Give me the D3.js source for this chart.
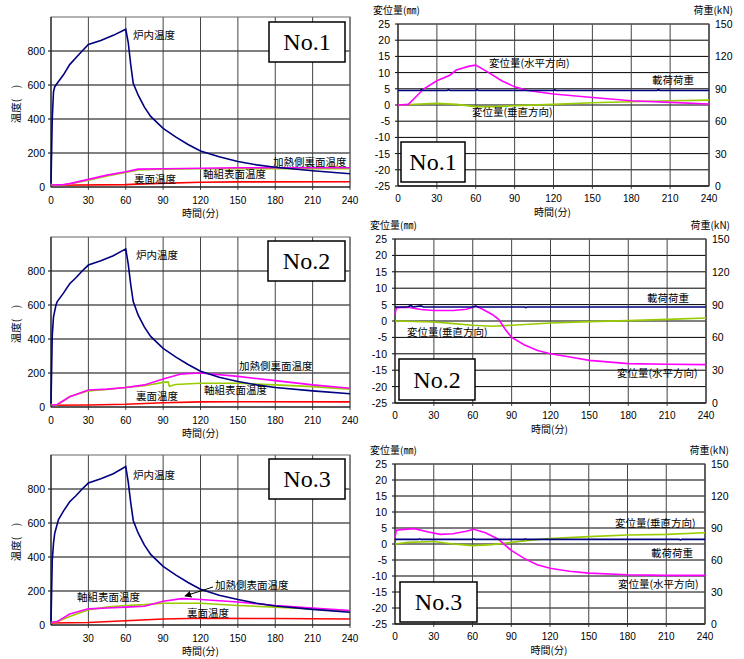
<!DOCTYPE html>
<html>
<head>
<meta charset="utf-8">
<script src="https://cdn.jsdelivr.net/npm/d3@7"></script>
<style>
  body { margin: 0; background: #fff; }
  svg text { font-family: "Liberation Sans", Arial, sans-serif; }
  .jp { font-family: "Noto Sans CJK JP", sans-serif; }
</style>
</head>
<body>
<svg id="chart" width="744" height="659"></svg>
<script>
// 時間軸の目盛り
const timeTicks = [0, 30, 60, 90, 120, 150, 180, 210, 240];
const tempTicks = [0, 200, 400, 600, 800];
const dispTicks = [-25, -20, -15, -10, -5, 0, 5, 10, 15, 20, 25];
const loadTicks = [0, 30, 60, 90, 120, 150];

// --- 温度 No.1 ---
const furnace1 = [[0,20],[1,400],[2,560],[3,590],[5,610],[10,660],[15,720],[20,760],[25,800],[30,838],[40,862],[50,892],[60,928],[62,850],[64,720],[66,610],[70,540],[75,470],[80,415],[90,345],[100,295],[110,250],[120,212],[135,178],[150,150],[165,130],[180,116],[210,96],[240,78]];
const heatBack1 = [[0,12],[10,14],[15,20],[30,45],[45,70],[60,90],[70,105],[90,107],[120,110],[150,113],[180,113],[240,113]];
const frame1 = [[0,10],[10,12],[15,18],[30,40],[45,65],[60,85],[70,100],[90,104],[120,107],[150,108],[180,108],[240,107]];
const back1 = [[0,10],[60,14],[80,20],[120,28],[150,30],[240,31]];

// --- 温度 No.2 ---
const furnace2 = [[0,20],[1,420],[2,530],[4,600],[5,620],[10,670],[15,725],[20,760],[25,800],[30,835],[40,860],[50,890],[60,930],[62,840],[64,720],[66,620],[70,540],[75,470],[80,415],[90,345],[100,295],[110,250],[120,210],[135,175],[150,150],[165,130],[180,115],[210,95],[240,78]];
const heatBack2 = [[0,10],[5,15],[15,60],[30,100],[45,105],[60,115],[75,130],[90,165],[105,195],[120,200],[150,180],[180,155],[210,130],[240,110]];
const frame2 = [[0,10],[5,12],[15,60],[30,95],[45,103],[60,115],[75,125],[90,145],[94,148],[95,122],[100,132],[120,140],[150,140],[180,130],[210,120],[240,105]];
const back2 = [[0,10],[30,12],[60,16],[90,25],[120,30],[150,31],[240,30]];

// --- 温度 No.3 ---
const furnace3 = [[0,20],[1,380],[2,480],[3,540],[6,620],[10,670],[15,725],[20,760],[25,800],[30,835],[40,860],[50,890],[60,932],[62,840],[64,720],[66,615],[70,540],[75,470],[80,415],[90,345],[100,295],[110,250],[120,210],[135,175],[150,150],[165,128],[180,112],[210,92],[240,75]];
const heatBack3 = [[0,15],[5,20],[15,65],[30,95],[45,100],[60,105],[75,110],[90,140],[105,155],[120,150],[150,135],[180,115],[210,100],[240,85]];
const frame3 = [[0,15],[5,20],[15,50],[30,90],[45,105],[60,115],[75,120],[90,128],[120,128],[150,115],[180,105],[210,95],[240,82]];
const back3 = [[0,12],[30,15],[60,25],[90,35],[120,40],[180,38],[240,35]];

// --- 変位・荷重 No.1 ---
const horiz1 = [[0,0],[8,0.2],[15,3],[20,5],[30,7.5],[40,9.2],[45,10.8],[55,12],[60,12.3],[70,10],[80,7.5],[90,5.6],[100,4.5],[120,3.4],[150,2.3],[180,1.3],[210,0.8],[240,0.3]];
const vert1 = [[0,0],[30,0.5],[45,0.2],[60,-0.5],[75,-0.5],[90,-0.2],[120,0.2],[150,0.7],[180,1.0],[210,1.3],[240,1.5]];
const load1 = [[0,88.4],[17,88.4],[18,89.3],[19,88.4],[38,88.4],[39,89.2],[40,88.4],[60,88.4],[61,89.1],[62,88.4],[120,88.4],[121,89.2],[122,88.4],[200,88.4],[201,89.2],[202,88.4],[240,88.4]];

// --- 変位・荷重 No.2 ---
const horiz2 = [[0,2],[1,4],[5,4.1],[10,4.2],[20,3.5],[30,3.2],[45,3.2],[55,3.6],[60,4.2],[63,4.5],[68,3.5],[75,2],[80,0.5],[85,-2.5],[90,-5],[100,-7.3],[110,-9],[120,-10],[135,-11],[150,-12],[180,-13],[210,-13.2],[240,-13.3]];
const vert2 = [[0,0],[30,-0.3],[45,-0.8],[60,-1.3],[75,-1.6],[90,-1.3],[120,-0.6],[150,-0.2],[180,0.1],[210,0.5],[240,0.9]];
const load2 = [[0,87.8],[10,87.8],[12,89.2],[14,87.8],[20,88.8],[22,87.8],[60,87.8],[62,88.6],[64,87.8],[100,87.8],[101,87.2],[102,87.8],[240,87.8]];

// --- 変位・荷重 No.3 ---
const horiz3 = [[0,2],[1,4.3],[5,4.5],[15,4.8],[25,3.8],[35,3.0],[45,3.2],[55,4],[61,4.6],[70,3.5],[80,1.5],[90,-2],[100,-4.5],[110,-6.5],[120,-7.6],[135,-8.5],[150,-9.1],[180,-9.6],[210,-9.8],[240,-9.8]];
const vert3 = [[0,0],[10,0.5],[30,0.8],[45,0],[60,-0.5],[75,-0.2],[90,0.5],[105,1.2],[120,1.7],[150,2.3],[180,2.8],[210,3.0],[240,3.5]];
const load3 = [[0,79.3],[18,79.3],[19,79.9],[20,79.3],[60,79.3],[61,79.9],[62,79.3],[100,79.3],[101,79.9],[102,79.3],[220,79.3],[221,78.8],[222,79.3],[240,79.3]];

const NAVY = "#000080", MAGENTA = "#ff00ff", GREEN = "#99cc00", RED = "#ff0000";
const svg = d3.select("#chart");

function addBox(x, y, w, h, label) {
  svg.append("rect").attr("x", x).attr("y", y).attr("width", w).attr("height", h)
    .attr("fill", "#fff").attr("stroke", "#000").attr("stroke-width", 1.5);
  svg.append("text").attr("x", x + w / 2).attr("y", y + h / 2 + 8)
    .attr("text-anchor", "middle").style("font-family", "'Liberation Serif', 'Times New Roman', serif")
    .style("font-size", "24px").text(label);
}

function addLabel(x, y, txt, anchor) {
  svg.append("text").attr("class", "jp").attr("x", x).attr("y", y)
    .attr("text-anchor", anchor || "start").style("font-size", "10.5px").text(txt);
}

function drawGrid(g, x, y, xTicks, yTicks, w, h) {
  g.selectAll(".hg").data(yTicks).enter().append("line")
    .attr("x1", -3).attr("x2", w).attr("y1", d => y(d)).attr("y2", d => y(d))
    .attr("stroke", "#000").attr("stroke-width", 1);
  g.selectAll(".vg").data(xTicks).enter().append("line")
    .attr("y1", 0).attr("y2", h + 3).attr("x1", d => x(d)).attr("x2", d => x(d))
    .attr("stroke", "#444").attr("stroke-width", 1);
  g.append("rect").attr("width", w).attr("height", h).attr("fill", "none")
    .attr("stroke", "#666").attr("stroke-width", 1);
  g.append("line").attr("x1", 0).attr("x2", 0).attr("y1", 0).attr("y2", h).attr("stroke", "#000");
  g.append("line").attr("x1", 0).attr("x2", w).attr("y1", h).attr("y2", h).attr("stroke", "#000");
}

// 温度グラフ
function drawTemp(p) {
  const w = p.right - p.left, h = p.bottom - p.top;
  const x = d3.scaleLinear().domain([0, 240]).range([0, w]);
  const y = d3.scaleLinear().domain([0, 1000]).range([h, 0]);
  const g = svg.append("g").attr("transform", `translate(${p.left},${p.top})`);
  g.append("rect").attr("width", w).attr("height", h).attr("fill", "#fff");
  drawGrid(g, x, y, timeTicks.slice(1), tempTicks.slice(1), w, h);

  g.selectAll(".yt").data(tempTicks).enter().append("text")
    .attr("x", -6).attr("y", d => y(d) + 4).attr("text-anchor", "end")
    .style("font-size", "10.5px").text(d => d);
  g.selectAll(".xt").data(p.noZero ? timeTicks.slice(1) : timeTicks).enter().append("text")
    .attr("x", d => x(d)).attr("y", h + 17).attr("text-anchor", "middle")
    .style("font-size", "10px").text(d => d);

  const line = d3.line().x(d => x(d[0])).y(d => y(d[1]));
  [[p.back, RED], [p.frame, GREEN], [p.heat, MAGENTA], [p.furnace, NAVY]].forEach(([data, c]) => {
    g.append("path").datum(data).attr("d", line).attr("fill", "none")
      .attr("stroke", c).attr("stroke-width", 1.6);
  });

  svg.append("text").attr("class", "jp").attr("x", p.left + w / 2).attr("y", p.bottom + 30)
    .attr("text-anchor", "middle").style("font-size", "10px").text("時間(分)");
  svg.append("text").attr("class", "jp")
    .attr("transform", `translate(${p.left - 31},${p.top + h / 2 + 2}) rotate(-90)`)
    .attr("text-anchor", "middle").style("font-size", "10.5px").text("温度(　)");
}

// 変位・荷重グラフ
function drawDisp(p) {
  const w = p.right - p.left, h = p.bottom - p.top;
  const x = d3.scaleLinear().domain([0, 240]).range([0, w]);
  const y = d3.scaleLinear().domain([-25, 25]).range([h, 0]);
  const yR = d3.scaleLinear().domain([0, 150]).range([h, 0]);
  const g = svg.append("g").attr("transform", `translate(${p.left},${p.top})`);
  g.append("rect").attr("width", w).attr("height", h).attr("fill", "#fff");
  drawGrid(g, x, y, timeTicks.slice(1, -1), dispTicks, w, h);
  g.append("line").attr("x1", w).attr("x2", w).attr("y1", 0).attr("y2", h)
    .attr("stroke", "#444").attr("stroke-width", 1.5);

  g.selectAll(".yt").data(dispTicks).enter().append("text")
    .attr("x", -8).attr("y", d => y(d) + 4).attr("text-anchor", "end")
    .style("font-size", "10.5px").text(d => d);
  g.selectAll(".yr").data(loadTicks).enter().append("text")
    .attr("x", w + 6).attr("y", d => yR(d) + 4).attr("text-anchor", "start")
    .style("font-size", "10.5px").text(d => d);
  g.selectAll(".xt").data(timeTicks).enter().append("text")
    .attr("x", d => x(d)).attr("y", h + 16).attr("text-anchor", "middle")
    .style("font-size", "10px").text(d => d);

  const line = d3.line().x(d => x(d[0])).y(d => y(d[1]));
  const lineR = d3.line().x(d => x(d[0])).y(d => yR(d[1]));
  g.append("path").datum(p.vert).attr("d", line).attr("fill", "none").attr("stroke", GREEN).attr("stroke-width", 1.6);
  g.append("path").datum(p.horiz).attr("d", line).attr("fill", "none").attr("stroke", MAGENTA).attr("stroke-width", 1.6);
  g.append("path").datum(p.load).attr("d", lineR).attr("fill", "none").attr("stroke", NAVY).attr("stroke-width", 1.6);

  svg.append("text").attr("class", "jp").attr("x", p.left + w / 2 - 1).attr("y", p.bottom + 30)
    .attr("text-anchor", "middle").style("font-size", "10px").text("時間(分)");
  svg.append("text").attr("class", "jp").attr("x", p.left - 25).attr("y", p.top - 10)
    .style("font-size", "10px").text("変位量(㎜)");
  svg.append("text").attr("class", "jp").attr("x", p.right + 24).attr("y", p.top - 10)
    .attr("text-anchor", "end").style("font-size", "10px").text("荷重(kN)");
}

// 左列：温度
drawTemp({ left: 51, right: 350, top: 17, bottom: 187, furnace: furnace1, heat: heatBack1, frame: frame1, back: back1 });
drawTemp({ left: 51, right: 350, top: 237, bottom: 407, furnace: furnace2, heat: heatBack2, frame: frame2, back: back2 });
drawTemp({ left: 51, right: 350, top: 455, bottom: 625, furnace: furnace3, heat: heatBack3, frame: frame3, back: back3, noZero: true });

// 右列：変位・荷重
drawDisp({ left: 398, right: 709, top: 24, bottom: 186, horiz: horiz1, vert: vert1, load: load1 });
drawDisp({ left: 395, right: 706, top: 239, bottom: 403, horiz: horiz2, vert: vert2, load: load2 });
drawDisp({ left: 395, right: 705, top: 464, bottom: 624, horiz: horiz3, vert: vert3, load: load3 });

// 系列ラベル
addLabel(133, 39, "炉内温度");
addLabel(273, 166, "加熱側裏面温度");
addLabel(134, 183, "裏面温度");
addLabel(203, 178, "軸組表面温度");

addLabel(136, 259, "炉内温度");
addLabel(239, 370, "加熱側裏面温度");
addLabel(136, 400, "裏面温度");
addLabel(204, 394, "軸組表面温度");

addLabel(133, 479, "炉内温度");
addLabel(215, 589, "加熱側表面温度");
addLabel(77, 601, "軸組表面温度");
addLabel(187, 617, "裏面温度");
svg.append("defs").append("marker").attr("id", "arr").attr("viewBox", "0 0 10 10")
  .attr("refX", 9).attr("refY", 5).attr("markerWidth", 7).attr("markerHeight", 7)
  .attr("orient", "auto").append("path").attr("d", "M0,0 L10,5 L0,10 z").attr("fill", "#000");
svg.append("line").attr("x1", 213).attr("y1", 587).attr("x2", 185).attr("y2", 596)
  .attr("stroke", "#000").attr("stroke-width", 1).attr("marker-end", "url(#arr)");

addLabel(489, 67, "変位量(水平方向)");
addLabel(652, 84, "載荷荷重");
addLabel(472, 116, "変位量(垂直方向)");

addLabel(647, 302, "載荷荷重");
addLabel(407, 336, "変位量(垂直方向)");
addLabel(617, 377, "変位量(水平方向)");

addLabel(615, 527, "変位量(垂直方向)");
addLabel(651, 557, "載荷荷重");
addLabel(618, 588, "変位量(水平方向)");

// No.ボックス
addBox(269, 22, 76, 40, "No.1");
addBox(268, 241, 77, 40, "No.2");
addBox(269, 459, 76, 40, "No.3");
addBox(401, 142, 64, 40, "No.1");
addBox(399, 359, 76, 41, "No.2");
addBox(400, 582, 77, 40, "No.3");
</script>
</body>
</html>
